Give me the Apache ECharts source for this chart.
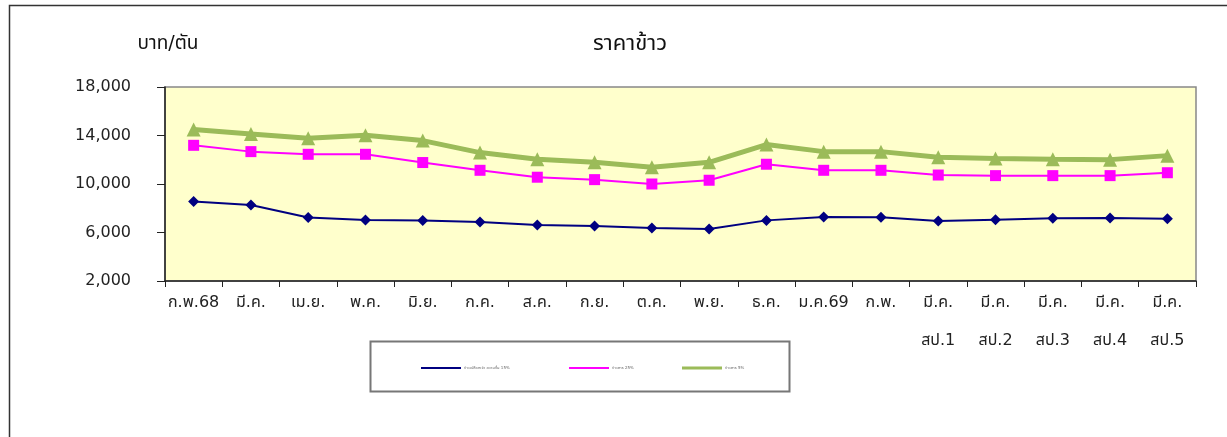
<!DOCTYPE html>
<html>
<head>
<meta charset="utf-8">
<script src="https://cdn.jsdelivr.net/npm/echarts@6/dist/echarts.min.js"></script>
<style>html,body{margin:0;padding:0;background:#fff}#c{width:1227px;height:437px}</style>
</head>
<body>
<div id="c"></div>
<script>
const categories = ['ก.พ.68','มี.ค.','เม.ย.','พ.ค.','มิ.ย.','ก.ค.','ส.ค.','ก.ย.','ต.ค.','พ.ย.','ธ.ค.','ม.ค.69','ก.พ.','มี.ค.\nสป.1','มี.ค.\nสป.2','มี.ค.\nสป.3','มี.ค.\nสป.4','มี.ค.\nสป.5'];
const seriesNames = ['ข้าวเปลือกเจ้า ความชื้น 15%','ข้าวสาร 25%','ข้าวสาร 5%'];
const paddy = [8550,8270,7230,7030,6980,6870,6620,6540,6370,6290,7000,7280,7260,6950,7060,7170,7200,7140];
const rice25 = [13190,12670,12450,12450,11770,11130,10560,10360,10000,10310,11630,11130,11130,10740,10690,10690,10690,10930];
const rice5 = [14500,14120,13770,14020,13580,12590,12040,11790,11380,11790,13250,12670,12670,12200,12100,12040,12010,12340];
const yTicks = {min: 2000, max: 18000, interval: 4000};
const titleText = 'ราคาข้าว';
const unitText = 'บาท/ตัน';

const FONT = "Tahoma, 'DejaVu Sans', 'Noto Sans Thai', 'Noto Sans', sans-serif";
const chart = echarts.init(document.getElementById('c'), null, {renderer: 'canvas'});
const colors = ['#000080', '#FF00FF', '#9BBB59'];
const legendX = [421, 569, 682];
chart.setOption({
  animation: false,
  title: [
    {text: titleText, left: 625, top: 28, textAlign: 'center', textStyle: {fontFamily: FONT, fontSize: 22, fontWeight: 'normal', color: '#111'}},
    {text: unitText, left: 163, top: 30, textAlign: 'center', textStyle: {fontFamily: FONT, fontSize: 19, fontWeight: 'normal', color: '#111'}}
  ],
  graphic: [
    {type: 'rect', z: -1, shape: {x: 9.5, y: 5.5, width: 1240, height: 450}, style: {fill: 'none', stroke: '#333', lineWidth: 1.5}},
    {type: 'rect', z: -1, shape: {x: 370.5, y: 341.5, width: 419, height: 50}, style: {fill: '#fff', stroke: '#777', lineWidth: 2}}
  ],
  legend: seriesNames.map((n, i) => ({
    data: [{name: n, icon: 'rect'}],
    left: legendX[i] - 5, top: 361,
    itemWidth: 40, itemHeight: i === 2 ? 3 : 2,
    itemGap: 2,
    textStyle: {fontFamily: FONT, fontSize: 4, color: '#666', padding: [0,0,0,-2]}
  })),
  grid: {left: 165, right: 31, top: 87, bottom: 156, show: true, backgroundColor: '#FFFFCC', borderColor: '#888', borderWidth: 1.5},
  xAxis: {
    type: 'category', data: categories, boundaryGap: true,
    axisLine: {lineStyle: {color: '#222', width: 1.5}},
    axisTick: {show: true, length: 6, lineStyle: {color: '#222'}},
    axisLabel: {fontFamily: FONT, fontSize: 16, color: '#222', margin: 3, lineHeight: 38, interval: 0}
  },
  yAxis: {
    type: 'value', min: yTicks.min, max: yTicks.max, interval: yTicks.interval,
    splitLine: {show: false},
    axisLine: {show: true, lineStyle: {color: '#222', width: 1.5}},
    axisTick: {show: true, length: 8, lineStyle: {color: '#222'}},
    axisLabel: {fontFamily: FONT, fontSize: 16, color: '#222', margin: 34,
      formatter: v => v.toLocaleString('en-US')}
  },
  series: [
    {name: seriesNames[0], type: 'line', data: paddy, color: colors[0], symbol: 'diamond', symbolSize: 11, lineStyle: {width: 2}},
    {name: seriesNames[1], type: 'line', data: rice25, color: colors[1], symbol: 'rect', symbolSize: 11, lineStyle: {width: 2}},
    {name: seriesNames[2], type: 'line', data: rice5, color: colors[2], symbol: 'triangle', symbolSize: 14, lineStyle: {width: 5}}
  ]
});
</script>
</body>
</html>
